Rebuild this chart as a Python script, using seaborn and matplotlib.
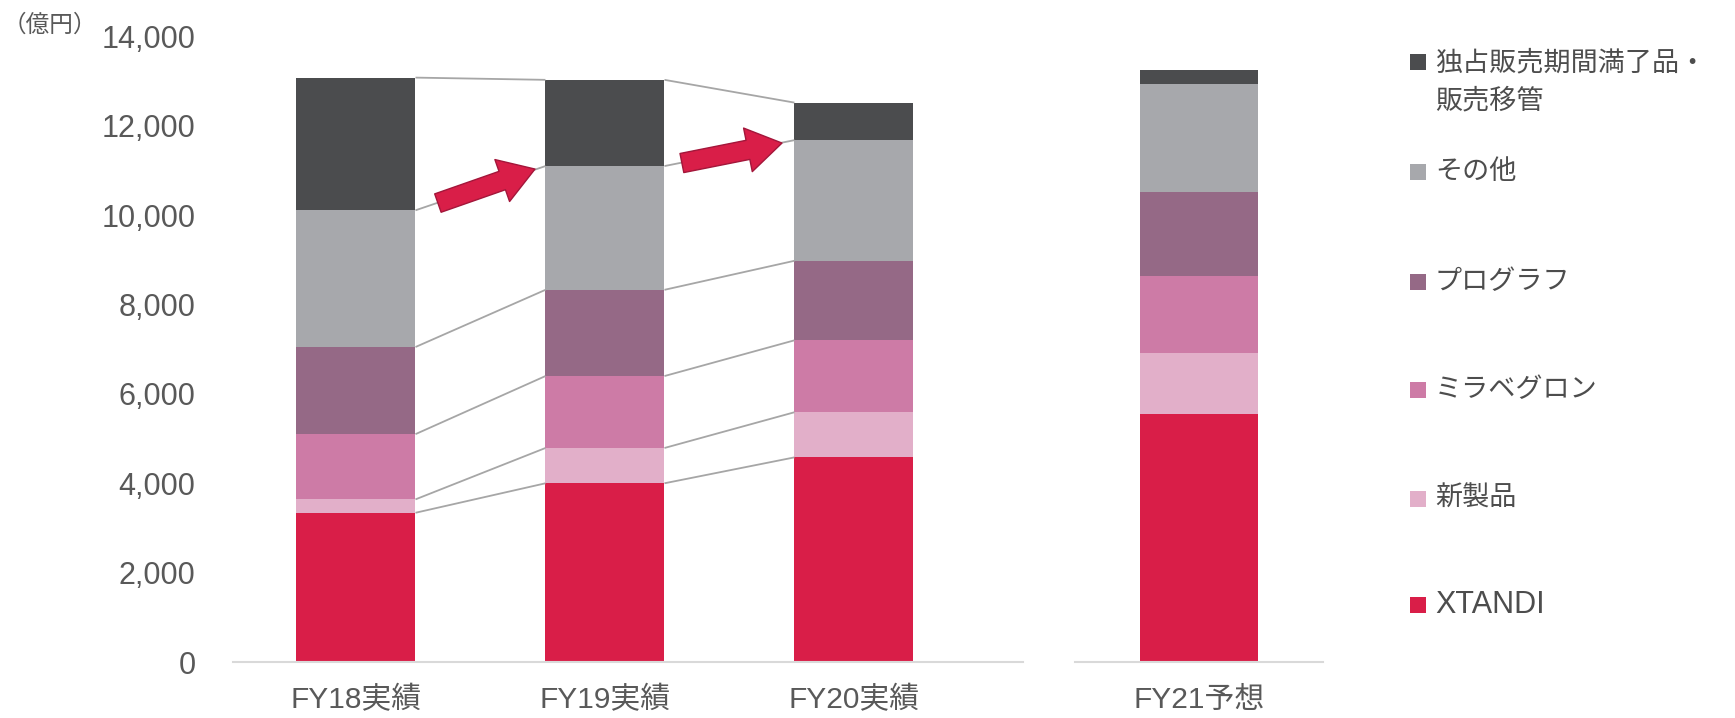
import matplotlib
matplotlib.use("Agg")
import matplotlib.pyplot as plt
from matplotlib.patches import Rectangle
import numpy as np
import pandas as pd
import seaborn as sns

# ---------------- data ----------------
categories = ["FY18実績", "FY19実績", "FY20実績", "FY21予想"]
series_names = ["XTANDI", "新製品", "ミラベグロン", "プログラフ", "その他", "独占販売期間満了品・\n販売移管"]
xtandi  = [3340, 4000, 4580, 5540]
new_products = [300, 790, 1010, 1380]
mirabegron = [1460, 1610, 1610, 1730]
prograf = [1950, 1930, 1780, 1880]
others  = [3060, 2770, 2700, 2400]
loe     = [2970, 1930, 840, 320]
colors = ["#D91E48", "#E2AFC9", "#CD7BA6", "#956986", "#A7A8AC", "#4B4C4E"]
yticks = list(range(0, 14001, 2000))

# ---------------- style ----------------
sns.set_theme(style="white")
plt.rcParams["font.family"] = ["Liberation Sans", "Noto Sans CJK JP", "DejaVu Sans"]
TXT = "#595959"

values = np.array([xtandi, new_products, mirabegron, prograf, others, loe], dtype=float)
cum = np.cumsum(values, axis=0)

fig = plt.figure(figsize=(17.35, 7.18), dpi=100)
ax1 = fig.add_axes([233/1735, 1-662/718, 790/1735, 625.5/718])
ax2 = fig.add_axes([1075/1735, 1-662/718, 248/1735, 625.5/718])

W = 0.478
groups = [(ax1, [0, 1, 2]), (ax2, [3])]
for ax, idx in groups:
    cats = [categories[i] for i in idx]
    for k in range(len(series_names) - 1, -1, -1):
        df = pd.DataFrame({"cat": cats, "val": cum[k, idx]})
        sns.barplot(data=df, x="cat", y="val", color=colors[k], saturation=1,
                    width=W, linewidth=0, ax=ax, order=cats)
    ax.set_ylim(0, 14000)
    ax.set_xlabel("")
    ax.set_ylabel("")
    for s in ["top", "right", "left"]:
        ax.spines[s].set_visible(False)
    ax.spines["bottom"].set_color("#D9D9D9")
    ax.spines["bottom"].set_linewidth(1.5)
    ax.tick_params(axis="x", length=0, pad=17, labelsize=21.5, labelcolor=TXT)
    ax.tick_params(axis="y", length=0, pad=27, labelsize=22, labelcolor=TXT)

ax1.set_xlim(-0.494, 2.679)
ax2.set_xlim(-0.5, 0.5)
ax1.set_yticks(yticks)
ax1.set_yticklabels([f"{v:,}" for v in yticks])
ax2.set_yticks([])

# connector lines between actual bars
for k in range(len(series_names)):
    for i in range(2):
        ax1.plot([i + W/2, i + 1 - W/2], [cum[k, i], cum[k, i + 1]],
                 color="#A6A6A6", lw=1.3, zorder=1, solid_capstyle="butt")

# arrows
arrow_kw = dict(width=14, headwidth=32, headlength=25, facecolor="#D91E48",
                edgecolor="#A3163A", lw=1, shrink=0)
ax1.annotate("", xy=(0.719, 11033), xytext=(0.329, 10272), arrowprops=arrow_kw, zorder=5)
ax1.annotate("", xy=(1.711, 11615), xytext=(1.309, 11168), arrowprops=arrow_kw, zorder=5)

# unit label
fig.text(50/1735, 1-25/718, "（億円）", ha="center", va="center", fontsize=17,
         color=TXT, family=["Noto Sans CJK JP", "DejaVu Sans"])

# legend (Excel-style, marker aligned to first line)
leg_y = [605, 499, 390, 282, 172, 62]
for k in range(len(series_names) - 1, -1, -1):
    yc = 1 - leg_y[k]/718
    fig.patches.append(Rectangle((1410/1735, yc - 8/718), 16/1735, 16/718,
                                 transform=fig.transFigure, facecolor=colors[k],
                                 edgecolor="none"))
    fs = 22 if k == 0 else 19.5
    if "\n" in series_names[k]:
        fig.text(1435/1735, yc + 12/718, series_names[k], ha="left", va="top",
                 fontsize=fs, color="#4D4D4D", linespacing=1.6)
    else:
        fig.text(1435/1735, yc, series_names[k], ha="left", va="center",
                 fontsize=fs, color="#4D4D4D")

fig.savefig("out.png", dpi=100)
